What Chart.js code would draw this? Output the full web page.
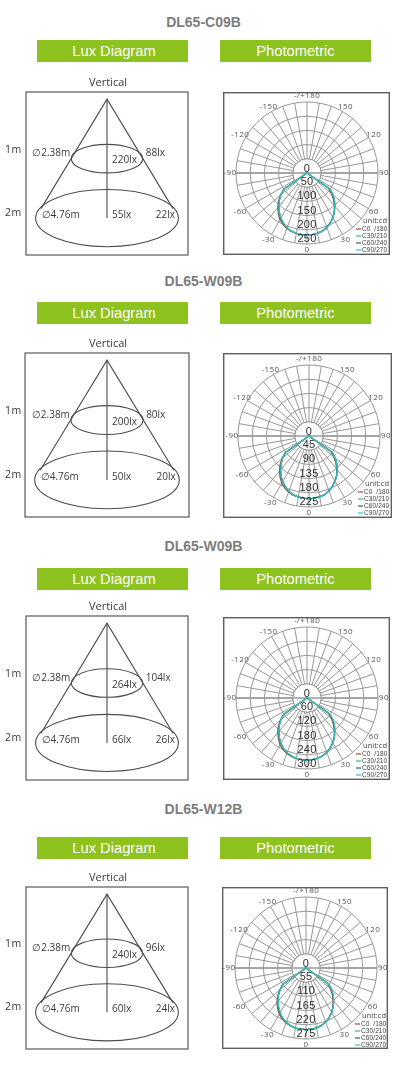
<!DOCTYPE html>
<html><head><meta charset="utf-8">
<style>
html,body{margin:0;padding:0;background:#fff}
#page{position:relative;width:400px;height:1086px;overflow:hidden}
.t{position:absolute;left:0;width:407px;text-align:center;font:bold 14px "Liberation Sans";color:#7d7d7d;line-height:16px}
.b{position:absolute;width:151px;height:22px;background:#8dc21f;color:#fff;text-align:center;font:14.7px/22px "Liberation Sans"}
canvas{position:absolute;display:block}
</style>
<script src="https://cdn.jsdelivr.net/npm/chart.js@4/dist/chart.umd.min.js"></script>
</head><body><div id="page"></div>
<script>
// ---- data ----
const titles = ['DL65-C09B','DL65-W09B','DL65-W09B','DL65-W12B'];
const distances = [1, 2];            // m
const diameters = [2.38, 4.76];      // m
const centerLux = [[220,55],[200,50],[264,66],[240,60]];
const edgeLux   = [[88,22],[80,20],[104,26],[96,24]];
const coneEdgeX = 2.2, coneEdgeY = 1.84; // m, where the cone meets the far ellipse

const angleLabels = ['-/+180','150','120','90','60','30','0','-30','-60','-90','-120','-150'];
const seriesNames = ['C0  /180','C30/210','C60/240','C90/270'];
const seriesColors = ['#a8433c','#3fba72','#2f5f82','#33c6bf'];
const scaleMax = [250,225,300,275];
// candela values at +60,+55 ... 0 ... -55,-60 degrees; zero everywhere else
const c0 = [
 [0,92,112,132,150,167,182,194,204,211,215,218,219,217,216,213,208,200,190,176,160,143,123,101,0],
 [0,84,102,120,136,152,165,176,185,192,195,198,199,197,196,194,189,182,173,160,145,130,112,92,0],
 [0,110,134,158,180,200,218,233,245,253,258,262,263,260,259,256,250,240,228,211,192,172,148,121,0],
 [0,100,122,144,164,182,199,212,223,230,235,238,239,237,236,232,227,218,207,192,175,156,134,110,0]];
const c30 = [
 [0,97,117,136,152,168,182,194,204,211,215,217,219,218,216,212,206,197,185,171,155,139,121,100,0],
 [0,88,106,124,138,153,165,176,185,192,195,197,199,198,196,193,187,179,168,155,141,126,110,91,0],
 [0,116,140,163,182,202,218,233,245,253,258,260,263,262,259,254,247,236,222,205,186,167,145,120,0],
 [0,106,128,148,166,183,199,212,223,230,235,237,239,238,236,231,225,215,202,187,169,152,132,109,0]];
const c60 = [
 [0,99,119,137,152,168,182,194,204,212,216,218,219,218,216,212,205,196,184,170,154,138,120,100,0],
 [0,90,108,125,138,153,165,176,185,193,196,198,199,198,196,193,186,178,167,155,140,125,109,91,0],
 [0,119,143,164,182,202,218,233,245,254,259,262,263,262,259,254,246,235,221,204,185,166,144,120,0],
 [0,108,130,149,166,183,199,212,223,231,236,238,239,238,236,231,224,214,201,185,168,151,131,109,0]];
const c90 = [
 [0,100,120,138,153,169,183,195,205,212,216,218,220,218,216,212,205,195,183,169,153,138,120,100,0],
 [0,91,109,125,139,154,166,177,186,193,196,198,200,198,196,193,186,177,166,154,139,125,109,91,0],
 [0,120,144,166,184,203,220,234,246,254,259,262,264,262,259,254,246,234,220,203,184,166,144,120,0],
 [0,109,131,151,167,184,200,213,224,231,236,238,240,238,236,231,224,213,200,184,167,151,131,109,0]];
const allSeries = [c0,c30,c60,c90];

// ---- page layout ----
const titleY = [14,273,538,801];
const barY   = [40,302,568,837];
const luxFrame = [{l:26,r:188,t:92,b:255},{l:25,r:189,t:353,b:517},{l:26,r:188,t:616,b:780},{l:26,r:188,t:887,b:1049}];
const polFrame = [{l:223,r:390,t:92,b:255,cx:307,cy:173},{l:223,r:392,t:353,b:518,cx:309,cy:436},
                  {l:223,r:390,t:617,b:780,cx:307,cy:698},{l:222,r:388,t:887,b:1049,cx:306,cy:968}];
const polR = 71;
const page = document.getElementById('page');
function addCanvas(x,y,w,h){const c=document.createElement('canvas');c.width=w;c.height=h;
  c.style.left=x+'px';c.style.top=y+'px';c.style.width=w+'px';c.style.height=h+'px';page.appendChild(c);return c;}
function addDiv(cls,txt,css){const d=document.createElement('div');d.className=cls;d.textContent=txt;Object.assign(d.style,css);page.appendChild(d);}

function put(ctx,txt,x,y,font,color,align,spacing){
  ctx.font=font;ctx.fillStyle=color;ctx.textAlign=align||'left';ctx.textBaseline='middle';
  ctx.letterSpacing=(spacing||0)+'px';ctx.fillText(txt,x,y);ctx.letterSpacing='0px';
}

// ---- lux diagram: scatter chart in metres ----
const luxPlugin = {
  id:'lux',
  afterDatasetsDraw(chart,args,o){
    const {ctx,chartArea:a,scales:{x,y}}=chart;
    ctx.save();
    ctx.strokeStyle='#666';ctx.lineWidth=1.3;
    ctx.strokeRect(a.left,a.top,a.right-a.left,a.bottom-a.top);
    ctx.strokeStyle='#4d4d4d';ctx.lineWidth=1.1;
    distances.forEach((d,i)=>{
      const rx=x.getPixelForValue(diameters[i]/2)-x.getPixelForValue(0);
      ctx.beginPath();ctx.ellipse(x.getPixelForValue(0),y.getPixelForValue(d),rx,rx*0.4,0,0,Math.PI*2);ctx.stroke();
    });
    const f='10px "Open Sans"',col='#3a3a3a';
    const x0=x.getPixelForValue(0),y1=y.getPixelForValue(distances[0]),y2=y.getPixelForValue(distances[1]);
    put(ctx,'Vertical',x0+1,a.top-9.5,'11px "Open Sans"',col,'center');
    put(ctx,distances[0]+'m',5,y1-9,'10.5px "Open Sans"',col,'left',.6);
    put(ctx,distances[1]+'m',5,y2-5,'10.5px "Open Sans"',col,'left',.6);
    put(ctx,'\u2205'+diameters[0].toFixed(2)+'m',x.getPixelForValue(-diameters[0]/2)-1,y1-5,f,col,'right');
    put(ctx,o.center[0]+'lx',x0+5,y1+2,f,col);
    put(ctx,o.edge[0]+'lx',x.getPixelForValue(diameters[0]/2)+3,y1-5,f,col);
    put(ctx,'\u2205'+diameters[1].toFixed(2)+'m',x.getPixelForValue(-diameters[1]/2)+6,y2-3,f,col);
    put(ctx,o.center[1]+'lx',x0+5,y2-3,f,col);
    put(ctx,o.edge[1]+'lx',x.getPixelForValue(diameters[1]/2)-3.5,y2-3,f,col,'right');
    ctx.restore();
  }
};
function luxChart(i){
  const fr=luxFrame[i];
  const c=addCanvas(0,fr.t-18,200,fr.b-fr.t+20);
  new Chart(c,{type:'scatter',plugins:[luxPlugin],
    data:{datasets:[
      {data:[{x:-coneEdgeX,y:coneEdgeY},{x:0,y:0},{x:coneEdgeX,y:coneEdgeY}],showLine:true,borderColor:'#4d4d4d',borderWidth:1.1,pointRadius:0,clip:false},
      {data:[{x:0,y:0},{x:0,y:distances[1]}],showLine:true,borderColor:'#4d4d4d',borderWidth:1.1,pointRadius:0,clip:false}
    ]},
    options:{responsive:false,animation:false,devicePixelRatio:1,
      layout:{padding:{left:fr.l,right:200-fr.r,top:18,bottom:2}},
      scales:{x:{type:'linear',display:false,min:-2.7,max:2.7},y:{type:'linear',display:false,reverse:true,min:-0.12,max:2.62}},
      plugins:{legend:{display:false},tooltip:{enabled:false},lux:{center:centerLux[i],edge:edgeLux[i]}}
    }});
}

// ---- photometric: radar chart, 5 degree samples, grid every 10 degrees ----
const polPlugin = {
  id:'pol',
  beforeDatasetsDraw(chart){
    const {ctx,scales:{r}}=chart,cx=r.xCenter,cy=r.yCenter,r1=r.getDistanceFromCenterForValue(r.max/5),R=r.drawingArea;
    ctx.save();
    ctx.fillStyle='#fff';ctx.beginPath();ctx.arc(cx,cy,r1,0,Math.PI*2);ctx.fill();
    ctx.strokeStyle='#8c8c8c';ctx.lineWidth=.9;ctx.beginPath();ctx.arc(cx,cy,r1,0,Math.PI*2);ctx.stroke();
    ctx.strokeStyle='#9a9a9a';ctx.lineWidth=1.4;ctx.beginPath();ctx.moveTo(cx-R,cy);ctx.lineTo(cx+R,cy);ctx.stroke();
    ctx.restore();
  },
  afterDatasetsDraw(chart){
    const {ctx,scales:{r},width,height}=chart,cx=r.xCenter,cy=r.yCenter,R=r.drawingArea;
    ctx.save();
    ctx.strokeStyle='#5f5f5f';ctx.lineWidth=1.4;ctx.strokeRect(.7,.7,width-1.4,height-1.4);
    chart.data.labels.forEach((l,i)=>{
      if(!l)return;const p=r.getPointPosition(i,R+6);
      put(ctx,l,p.x,p.y,'8px "Open Sans"','#555','center',.4);
    });
    r.ticks.forEach(t=>{
      const d=r.getDistanceFromCenterForValue(t.value);
      put(ctx,String(t.value),cx,t.value===0?cy-4:cy+d-5,'11px "Liberation Sans"','#2e2e2e','center',.2);
    });
    put(ctx,'unit:cd',cx+80,cy+48,'7.5px "Open Sans"','#444','right');
    chart.data.datasets.forEach((ds,i)=>{
      const y=cy+56+i*7;
      ctx.strokeStyle=ds.borderColor;ctx.lineWidth=1.2;ctx.beginPath();ctx.moveTo(cx+49,y);ctx.lineTo(cx+54,y);ctx.stroke();
      put(ctx,ds.label,cx+55,y,'6.5px "Liberation Sans"','#444','left',.1);
    });
    ctx.restore();
  }
};
function fullCircle(arc){ // arc runs from +60 through 0 to -60; index 0 of the radar is the top
  const v=new Array(72).fill(0);
  arc.forEach((n,k)=>{v[24+k]=n;});
  return v;
}
function polChart(i){
  const fr=polFrame[i],w=fr.r-fr.l,h=fr.b-fr.t;
  const c=addCanvas(fr.l,fr.t,w,h);
  const labels=[];for(let k=0;k<72;k++)labels.push(k%6===0?angleLabels[k/6]:'');
  new Chart(c,{type:'radar',plugins:[polPlugin],
    data:{labels,datasets:seriesNames.map((n,k)=>({label:n,data:fullCircle(allSeries[k][i]),borderColor:seriesColors[k],order:seriesNames.length-k,
      borderWidth:1.2,pointRadius:0,fill:false,tension:0,borderJoinStyle:'round'}))},
    options:{responsive:false,animation:false,devicePixelRatio:1,
      layout:{padding:{left:fr.cx-polR-fr.l,right:fr.r-fr.cx-polR,top:fr.cy-polR-fr.t,bottom:fr.b-fr.cy-polR}},
      scales:{r:{min:0,max:scaleMax[i],
        ticks:{display:false,stepSize:scaleMax[i]/5},
        pointLabels:{display:false},
        grid:{circular:true,color:'#8c8c8c',lineWidth:.9},
        angleLines:{display:true,color:c=>c.index%2?'transparent':'#8c8c8c',lineWidth:.9}}},
      plugins:{legend:{display:false},tooltip:{enabled:false}}
    }});
}

titles.forEach((t,i)=>{
  addDiv('t',t,{top:titleY[i]+'px'});
  addDiv('b','Lux Diagram',{left:'37px',top:barY[i]+'px',paddingLeft:'3px',width:'148px'});
  addDiv('b','Photometric',{left:'220px',top:barY[i]+'px'});
  luxChart(i);polChart(i);
});
</script></body></html>
